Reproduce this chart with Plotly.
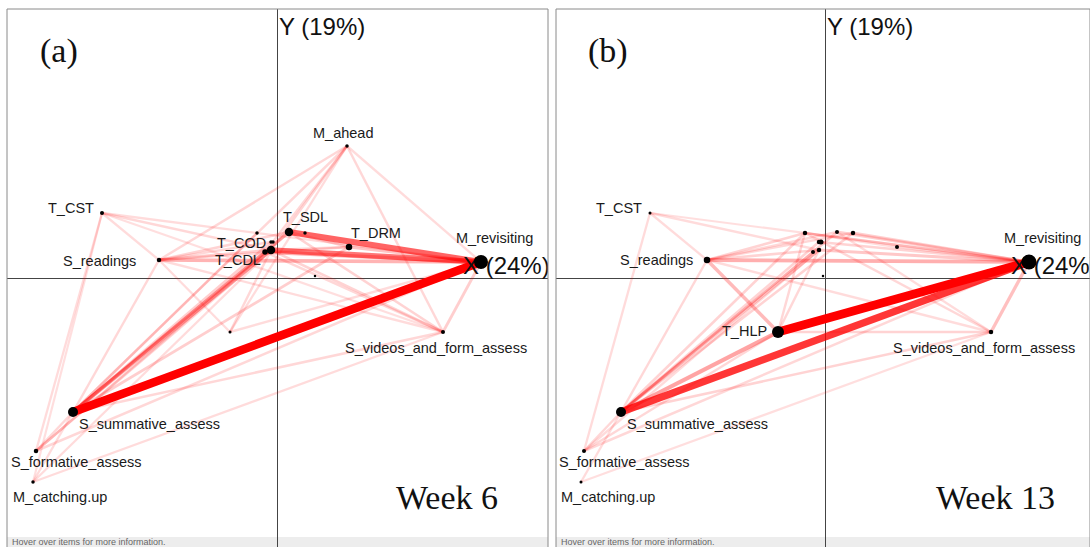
import plotly.graph_objects as go

# ---------------------------------------------------------------
# Node positions in the shared ENA projection space (X, Y)
# ---------------------------------------------------------------
node_names = ["M_ahead", "T_CST", "T_SDL", "n1", "T_DRM", "M_revisiting",
              "n2", "T_COD", "n3", "T_CDL", "n4", "S_readings", "n5", "n6",
              "T_HLP", "S_videos_and_form_assess", "S_summative_assess",
              "S_formative_assess", "M_catching.up"]
node_x = [0.350, -0.875, 0.060, 0.140, 0.360, 1.020,
          -0.100, -0.030, -0.020, -0.060, -0.030, -0.590, 0.190, -0.010,
          -0.235, 0.830, -1.020, -1.205, -1.220]
node_y = [0.660, 0.325, 0.230, 0.225, 0.155, 0.080,
          0.225, 0.180, 0.180, 0.130, 0.140, 0.090, 0.010, 0.010,
          -0.270, -0.270, -0.670, -0.865, -1.020]

# node weights (marker diameter) per week
size_week6 = [3.5, 4, 8.5, 3.5, 6.5, 14, 3.5, 3.5, 3.5, 5.5, 8.5, 4.5, 2.5, 0,
              3, 4, 10, 4.5, 3.5]
size_week13 = [0, 3, 4, 4.5, 4, 15, 4.5, 4.5, 5, 4, 4.5, 6.5, 0, 2.5,
               12, 4.5, 10, 4, 3]

# labelled nodes per week
labels_week6 = ["M_ahead", "T_CST", "T_SDL", "T_DRM", "M_revisiting", "T_COD",
                "T_CDL", "S_readings", "S_videos_and_form_assess",
                "S_summative_assess", "S_formative_assess", "M_catching.up"]
labels_week13 = ["T_CST", "M_revisiting", "S_readings", "T_HLP",
                 "S_videos_and_form_assess", "S_summative_assess",
                 "S_formative_assess", "M_catching.up"]

# co-occurrence edges (source, target, relative weight)
edges_week6 = [
    ("S_summative_assess", "M_revisiting", 1.0),
    ("T_SDL", "M_revisiting", 0.62),
    ("n4", "M_revisiting", 0.55),
    ("T_CDL", "M_revisiting", 0.30),
    ("S_readings", "M_revisiting", 0.28),
    ("T_DRM", "M_revisiting", 0.20),
    ("S_summative_assess", "n4", 0.30),
    ("S_summative_assess", "T_SDL", 0.25),
    ("S_summative_assess", "T_CDL", 0.20),
    ("S_summative_assess", "T_COD", 0.15),
    ("S_summative_assess", "T_DRM", 0.15),
    ("S_summative_assess", "M_ahead", 0.10),
    ("S_summative_assess", "S_videos_and_form_assess", 0.10),
    ("S_summative_assess", "S_readings", 0.10),
    ("S_summative_assess", "n2", 0.10),
    ("S_formative_assess", "n4", 0.12),
    ("S_formative_assess", "M_revisiting", 0.10),
    ("S_formative_assess", "T_SDL", 0.10),
    ("S_formative_assess", "T_CST", 0.08),
    ("S_formative_assess", "S_summative_assess", 0.10),
    ("M_catching.up", "S_summative_assess", 0.08),
    ("M_catching.up", "n4", 0.08),
    ("M_catching.up", "S_videos_and_form_assess", 0.08),
    ("M_catching.up", "T_CST", 0.06),
    ("M_ahead", "S_readings", 0.10),
    ("M_ahead", "T_CDL", 0.10),
    ("M_ahead", "n4", 0.12),
    ("M_ahead", "S_videos_and_form_assess", 0.10),
    ("M_ahead", "M_revisiting", 0.08),
    ("M_ahead", "T_HLP", 0.08),
    ("T_CST", "S_readings", 0.08),
    ("T_CST", "n4", 0.10),
    ("T_CST", "M_revisiting", 0.08),
    ("T_CST", "S_videos_and_form_assess", 0.06),
    ("S_readings", "n4", 0.15),
    ("S_readings", "T_SDL", 0.12),
    ("S_readings", "T_COD", 0.10),
    ("S_readings", "T_DRM", 0.10),
    ("S_readings", "S_videos_and_form_assess", 0.08),
    ("S_videos_and_form_assess", "M_revisiting", 0.15),
    ("S_videos_and_form_assess", "n4", 0.12),
    ("S_videos_and_form_assess", "T_SDL", 0.12),
    ("S_videos_and_form_assess", "T_CDL", 0.10),
    ("T_HLP", "n4", 0.10),
    ("T_HLP", "S_readings", 0.08),
    ("T_HLP", "M_revisiting", 0.08),
    ("T_SDL", "T_DRM", 0.15),
    ("n4", "T_DRM", 0.10),
]

edges_week13 = [
    ("T_HLP", "M_revisiting", 1.0),
    ("S_summative_assess", "M_revisiting", 0.80),
    ("S_summative_assess", "T_HLP", 0.35),
    ("S_readings", "M_revisiting", 0.30),
    ("S_readings", "T_HLP", 0.25),
    ("S_videos_and_form_assess", "M_revisiting", 0.22),
    ("n4", "M_revisiting", 0.18),
    ("T_SDL", "M_revisiting", 0.15),
    ("n1", "M_revisiting", 0.15),
    ("n2", "M_revisiting", 0.12),
    ("T_DRM", "M_revisiting", 0.12),
    ("T_COD", "M_revisiting", 0.12),
    ("S_summative_assess", "n4", 0.18),
    ("S_summative_assess", "T_SDL", 0.15),
    ("S_summative_assess", "n1", 0.12),
    ("S_summative_assess", "n2", 0.12),
    ("S_summative_assess", "T_COD", 0.12),
    ("S_summative_assess", "T_CDL", 0.10),
    ("S_summative_assess", "S_videos_and_form_assess", 0.12),
    ("S_summative_assess", "S_readings", 0.10),
    ("S_readings", "n2", 0.12),
    ("S_readings", "n4", 0.12),
    ("S_readings", "T_SDL", 0.10),
    ("S_readings", "n1", 0.10),
    ("S_readings", "S_videos_and_form_assess", 0.08),
    ("T_HLP", "n4", 0.10),
    ("T_HLP", "S_videos_and_form_assess", 0.12),
    ("T_HLP", "n2", 0.10),
    ("S_formative_assess", "M_revisiting", 0.10),
    ("S_formative_assess", "T_HLP", 0.10),
    ("S_formative_assess", "S_summative_assess", 0.10),
    ("S_formative_assess", "n4", 0.08),
    ("S_formative_assess", "T_CST", 0.08),
    ("M_catching.up", "S_summative_assess", 0.08),
    ("M_catching.up", "S_videos_and_form_assess", 0.06),
    ("T_CST", "S_readings", 0.08),
    ("T_CST", "n4", 0.08),
    ("T_CST", "M_revisiting", 0.06),
    ("S_videos_and_form_assess", "n2", 0.10),
    ("S_videos_and_form_assess", "T_SDL", 0.08),
    ("n2", "T_DRM", 0.08),
]

axis_x_label = "X (24%)"
axis_y_label = "Y (19%)"
panel_tags = ["(a)", "(b)"]
week_titles = ["Week 6", "Week 13"]

# ---------------------------------------------------------------
# Page geometry (pixels)
# ---------------------------------------------------------------
W, H = 1090, 547
SCALE = 200.0  # pixels per projection unit
panels = [
    dict(left=7, right=548, origin_x=277, xa="x", ya="y", xr="xaxis", yr="yaxis"),
    dict(left=556, right=1090, origin_x=825, xa="x2", ya="y2", xr="xaxis2", yr="yaxis2"),
]
TOP, BOTTOM, ORIGIN_Y = 9, 547, 278

# label placement: (xanchor, xshift, yshift) in pixels relative to the node
label_style = {
    "M_ahead": ("center", -4, 13),
    "T_CST": ("right", -6, 5),
    "T_SDL": ("left", -8, 15),
    "T_DRM": ("left", 0, 14),
    "M_revisiting": ("center", 13, 24),
    "T_COD": ("right", -3, -1),
    "T_CDL": ("right", -2, -8),
    "S_readings": ("right", -21, -1),
    "S_videos_and_form_assess": ("center", -7, -16),
    "S_summative_assess": ("left", 4, -12),
    "S_formative_assess": ("left", -27, -11),
    "M_catching.up": ("left", -22, -15),
    "T_HLP": ("right", -9, 1),
}
label_style_week13 = dict(label_style)
label_style_week13["S_readings"] = ("right", -12, 0)

SANS = "Liberation Sans, Arial, Helvetica, sans-serif"
SERIF = "Liberation Serif, Times New Roman, serif"
LABEL_FONT = dict(family=SANS, size=14.5, color="#1a1a1a")
X_CAPTION_POS = (0.93, 0.052)  # projection units, left edge of the caption


def px(x):
    return x / W


def py(y):
    return 1 - y / H


def edge_style(w):
    alpha = min(1.0, 0.10 + 0.9 * w ** 1.2)
    width = 1.8 + 6.8 * w
    return f"rgba(255,0,0,{alpha:.3f})", width


fig = go.Figure()
idx = {n: i for i, n in enumerate(node_names)}

weeks = [
    (edges_week6, size_week6, labels_week6, label_style),
    (edges_week13, size_week13, labels_week13, label_style_week13),
]

annotations = []
shapes = []

for p, (edges, sizes, labels, lstyle), tag, title in zip(panels, weeks, panel_tags, week_titles):
    # edges, lightest first so heavy connections sit on top
    for s, t, w in sorted(edges, key=lambda e: e[2]):
        color, width = edge_style(w)
        fig.add_trace(go.Scatter(
            x=[node_x[idx[s]], node_x[idx[t]]],
            y=[node_y[idx[s]], node_y[idx[t]]],
            mode="lines", line=dict(color=color, width=width),
            hoverinfo="skip", showlegend=False,
            xaxis=p["xa"], yaxis=p["ya"]))

    # X axis caption drawn beneath the nodes
    fig.add_trace(go.Scatter(
        x=[X_CAPTION_POS[0]], y=[X_CAPTION_POS[1]], mode="text", text=[axis_x_label],
        textposition="middle right",
        textfont=dict(family=SANS, size=24, color="#111"),
        hoverinfo="skip", showlegend=False, xaxis=p["xa"], yaxis=p["ya"]))

    # nodes
    keep = [i for i, sz in enumerate(sizes) if sz > 0]
    fig.add_trace(go.Scatter(
        x=[node_x[i] for i in keep], y=[node_y[i] for i in keep],
        mode="markers",
        marker=dict(color="black", opacity=1, size=[sizes[i] for i in keep], line=dict(width=0)),
        text=[node_names[i] for i in keep], hoverinfo="text",
        showlegend=False, xaxis=p["xa"], yaxis=p["ya"]))

    # node labels
    for name in labels:
        anchor, dx, dy = lstyle[name]
        annotations.append(dict(
            x=node_x[idx[name]], y=node_y[idx[name]], xref=p["xa"], yref=p["ya"],
            text=name, showarrow=False, xanchor=anchor, yanchor="middle",
            xshift=dx, yshift=dy, font=LABEL_FONT))

    # Y axis caption
    annotations.append(dict(
        x=0, y=(ORIGIN_Y - TOP) / SCALE, xref=p["xa"], yref=p["ya"], text=axis_y_label,
        showarrow=False, xanchor="left", yanchor="top", xshift=0, yshift=-2,
        font=dict(family=SANS, size=24, color="#111")))

    # panel tag and week title
    annotations.append(dict(
        x=px(p["left"] + 52), y=py(51), xref="paper", yref="paper", text=tag,
        showarrow=False, xanchor="center", yanchor="middle",
        font=dict(family=SERIF, size=34, color="#111")))
    annotations.append(dict(
        x=px(p["origin_x"] + 170), y=py(497), xref="paper", yref="paper", text=title,
        showarrow=False, xanchor="center", yanchor="middle",
        font=dict(family=SERIF, size=34, color="#111")))

    # status bar at the bottom of the panel
    shapes.append(dict(
        type="rect", xref="paper", yref="paper",
        x0=px(p["left"]), x1=px(p["right"]), y0=py(H), y1=py(537),
        fillcolor="#ededed", line=dict(width=0), layer="below"))
    annotations.append(dict(
        x=px(p["left"] + 3), y=py(542), xref="paper", yref="paper",
        text="Hover over items for more information.", showarrow=False,
        xanchor="left", yanchor="middle",
        font=dict(family=SANS, size=9, color="#666")))

    # panel frame
    shapes.append(dict(
        type="rect", xref="paper", yref="paper",
        x0=px(p["left"]), x1=px(p["right"]), y0=py(H + 2), y1=py(TOP),
        line=dict(color="#8a8a8a", width=1), fillcolor="rgba(0,0,0,0)", layer="above"))

layout_axes = {}
for p in panels:
    layout_axes[p["xr"]] = dict(
        domain=[px(p["left"]), px(p["right"])],
        range=[(p["left"] - p["origin_x"]) / SCALE, (p["right"] - p["origin_x"]) / SCALE],
        showgrid=False, showticklabels=False, ticks="", showline=False,
        zeroline=True, zerolinecolor="#444", zerolinewidth=1, fixedrange=True,
        anchor=p["ya"])
    layout_axes[p["yr"]] = dict(
        domain=[0, py(TOP)],
        range=[(ORIGIN_Y - BOTTOM) / SCALE, (ORIGIN_Y - TOP) / SCALE],
        showgrid=False, showticklabels=False, ticks="", showline=False,
        zeroline=True, zerolinecolor="#444", zerolinewidth=1, fixedrange=True,
        anchor=p["xa"])

fig.update_layout(
    width=W, height=H, margin=dict(l=0, r=0, t=0, b=0),
    paper_bgcolor="white", plot_bgcolor="white",
    annotations=annotations, shapes=shapes, hovermode="closest",
    **layout_axes)

fig.write_html("out.html", config={"displayModeBar": False})
